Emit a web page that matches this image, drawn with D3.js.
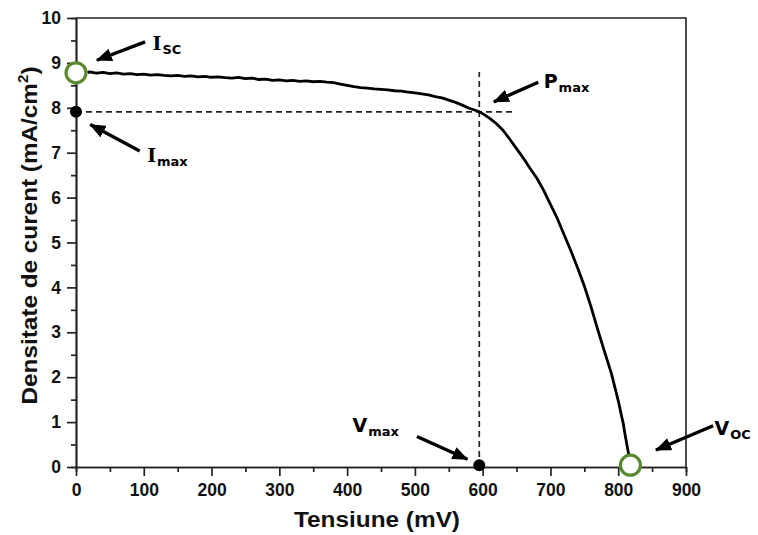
<!DOCTYPE html>
<html>
<head>
<meta charset="utf-8">
<script src="https://cdn.jsdelivr.net/npm/d3@7"></script>
<style>
  body { margin: 0; background: #fff; }
  svg { display: block; }
</style>
</head>
<body>
<svg width="758" height="535"></svg>
<script>
// J-V curve (mV, mA/cm2)
var tension = [17, 20, 30, 40, 50, 60, 70, 80, 90, 100, 110, 120, 130, 140, 150, 160, 170, 180, 190, 200,
  210, 220, 230, 240, 250, 260, 270, 280, 290, 300, 310, 320, 330, 340, 350, 360, 370, 380, 390, 400,
  410, 420, 430, 440, 450, 460, 470, 480, 490, 500, 510, 520, 530, 540, 550, 560, 570, 580, 590, 595,
  600, 610, 620, 630, 640, 650, 660, 670, 680, 690, 700, 710, 720, 730, 740, 750, 760, 770, 780, 790,
  800, 805, 807, 810, 815, 818];
var densitate = [8.78, 8.80, 8.77, 8.79, 8.76, 8.78, 8.75, 8.76, 8.74, 8.75, 8.73, 8.74, 8.72, 8.71, 8.72, 8.70, 8.71, 8.69, 8.70, 8.68,
  8.69, 8.67, 8.66, 8.68, 8.65, 8.66, 8.63, 8.64, 8.61, 8.62, 8.60, 8.61, 8.59, 8.60, 8.58, 8.59, 8.57, 8.56, 8.53, 8.50,
  8.47, 8.45, 8.44, 8.42, 8.41, 8.40, 8.38, 8.37, 8.35, 8.33, 8.31, 8.29, 8.25, 8.22, 8.17, 8.12, 8.06, 7.99, 7.94, 7.91,
  7.87, 7.77, 7.65, 7.50, 7.30, 7.09, 6.88, 6.65, 6.43, 6.16, 5.85, 5.54, 5.18, 4.82, 4.44, 4.03, 3.56, 3.05, 2.56, 2.08,
  1.48, 1.13, 1.00, 0.73, 0.31, 0.05];

var xTicks = [0, 100, 200, 300, 400, 500, 600, 700, 800, 900];
var yTicks = [0, 1, 2, 3, 4, 5, 6, 7, 8, 9, 10];

// special points
var openPoints = [[0, 8.78], [818, 0.04]];     // Isc, Voc
var filledPoints = [[0, 7.91], [595, 0.04]];   // Imax, Vmax
var vmp = 595, jmp = 7.91;

// annotations: arrow from -> to, label position (data units)
var annotations = [
  { main: "I", sub: "SC",  from: [102, 9.47], to: [17, 8.98], label: [113, 9.29], serif: true },
  { main: "I", sub: "max", from: [94, 7.04],  to: [8, 7.73],  label: [105, 6.79], serif: true },
  { main: "P", sub: "max", from: [682, 8.57], to: [603, 8.04], label: [690, 8.45] },
  { main: "V", sub: "max", from: [503, 0.68], to: [591, 0.08], label: [408, 0.78] },
  { main: "V", sub: "OC",  from: [940, 0.92], to: [842, 0.29], label: [942, 0.71] }
];

var svg = d3.select("svg");
var mLeft = 76, mRight = 686, mTop = 18, mBottom = 467;

var x = d3.scaleLinear().domain([0, 900]).range([mLeft, mRight]);
var y = d3.scaleLinear().domain([0, 10]).range([mBottom, mTop]);

var green = "#5a8a30";
var axisFont = "'Liberation Sans', Arial, sans-serif";

// frame (top and right)
svg.append("path")
  .attr("d", "M" + mLeft + "," + mTop + "H" + mRight + "V" + mBottom)
  .attr("fill", "none")
  .attr("stroke", "#222")
  .attr("stroke-width", 1.6);

// minor ticks
var gx = svg.append("g").attr("transform", "translate(0," + mBottom + ")");
gx.call(d3.axisBottom(x).tickValues(d3.range(50, 900, 100)).tickSize(5).tickFormat(""));
var gy = svg.append("g").attr("transform", "translate(" + mLeft + ",0)");
gy.call(d3.axisLeft(y).tickValues(d3.range(0.5, 10, 1)).tickSize(5).tickFormat(""));

// major axes
var ax = svg.append("g").attr("transform", "translate(0," + mBottom + ")")
  .call(d3.axisBottom(x).tickValues(xTicks).tickSize(9).tickPadding(8).tickSizeOuter(0));
var ay = svg.append("g").attr("transform", "translate(" + mLeft + ",0)")
  .call(d3.axisLeft(y).tickValues(yTicks).tickSize(9).tickPadding(6).tickSizeOuter(0));

svg.selectAll(".domain, .tick line").attr("stroke", "#222").attr("stroke-width", 1.7);
[ax, ay].forEach(function (a) {
  a.selectAll("text")
    .attr("fill", "#111")
    .style("font-family", axisFont)
    .style("font-weight", "bold")
    .style("font-size", "17.5px");
});

// axis titles
svg.append("text")
  .attr("x", x(450) - 4)
  .attr("y", 527)
  .attr("text-anchor", "middle")
  .attr("textLength", 166)
  .attr("lengthAdjust", "spacingAndGlyphs")
  .style("font-family", axisFont)
  .style("font-weight", "bold")
  .style("font-size", "21.5px")
  .attr("fill", "#111")
  .text("Tensiune (mV)");

var yt = svg.append("text")
  .attr("text-anchor", "middle")
  .attr("transform", "translate(37," + (y(5) - 7) + ")rotate(-90)")
  .attr("textLength", 338)
  .attr("lengthAdjust", "spacingAndGlyphs")
  .style("font-family", axisFont)
  .style("font-weight", "bold")
  .style("font-size", "22.5px")
  .attr("fill", "#111");
yt.append("tspan").text("Densitate de curent (mA/cm");
yt.append("tspan").attr("dy", -9).style("font-size", "14px").text("2");
yt.append("tspan").attr("dy", 9).text(")");

// dashed guides at max power point
svg.append("line")
  .attr("x1", x(0)).attr("x2", x(648))
  .attr("y1", y(jmp)).attr("y2", y(jmp))
  .attr("stroke", "#222").attr("stroke-width", 1.7)
  .attr("stroke-dasharray", "6,4");
svg.append("line")
  .attr("x1", x(vmp)).attr("x2", x(vmp))
  .attr("y1", y(0)).attr("y2", y(8.8))
  .attr("stroke", "#222").attr("stroke-width", 1.7)
  .attr("stroke-dasharray", "6,4");

// curve
var line = d3.line()
  .x(function (d, i) { return x(tension[i]); })
  .y(function (d) { return y(d); });
svg.append("path")
  .datum(densitate)
  .attr("d", line)
  .attr("fill", "none")
  .attr("stroke", "#000")
  .attr("stroke-width", 2.8)
  .attr("stroke-linejoin", "round");

// points
svg.selectAll(".filled")
  .data(filledPoints)
  .enter()
  .append("circle")
  .attr("cx", function (d) { return x(d[0]); })
  .attr("cy", function (d) { return y(d[1]); })
  .attr("r", 6)
  .attr("fill", "#000");

svg.selectAll(".open")
  .data(openPoints)
  .enter()
  .append("circle")
  .attr("cx", function (d) { return x(d[0]); })
  .attr("cy", function (d) { return y(d[1]); })
  .attr("r", 10)
  .attr("fill", "#fff")
  .attr("stroke", green)
  .attr("stroke-width", 3.2);

// arrowhead
svg.append("defs").append("marker")
  .attr("id", "head")
  .attr("markerUnits", "userSpaceOnUse")
  .attr("viewBox", "0 0 16 13")
  .attr("refX", 15)
  .attr("refY", 6.5)
  .attr("markerWidth", 16)
  .attr("markerHeight", 13)
  .attr("orient", "auto")
  .append("path")
  .attr("d", "M0,0L16,6.5L0,13Z")
  .attr("fill", "#000");

annotations.forEach(function (a) {
  var x1 = x(a.from[0]), y1 = y(a.from[1]);
  var x2 = x(a.to[0]), y2 = y(a.to[1]);
  // shorten line so the head covers the tip
  var dx = x2 - x1, dy = y2 - y1, len = Math.sqrt(dx * dx + dy * dy);
  svg.append("line")
    .attr("x1", x1).attr("y1", y1)
    .attr("x2", x2 - dx / len * 10).attr("y2", y2 - dy / len * 10)
    .attr("stroke", "#000")
    .attr("stroke-width", 3.4)
    .attr("marker-end", "url(#head)");

  var t = svg.append("text")
    .attr("x", x(a.label[0]))
    .attr("y", y(a.label[1]))
    .attr("fill", "#000")
    .style("font-weight", "bold");
  t.append("tspan")
    .style("font-family", a.serif ? "'DejaVu Serif', serif" : "'DejaVu Sans', sans-serif")
    .style("font-size", "19px")
    .text(a.main);
  t.append("tspan")
    .attr("dy", 4)
    .attr("dx", 1)
    .style("font-family", "'DejaVu Sans', sans-serif")
    .style("font-size", "13px")
    .text(a.sub);
});
</script>
</body>
</html>
